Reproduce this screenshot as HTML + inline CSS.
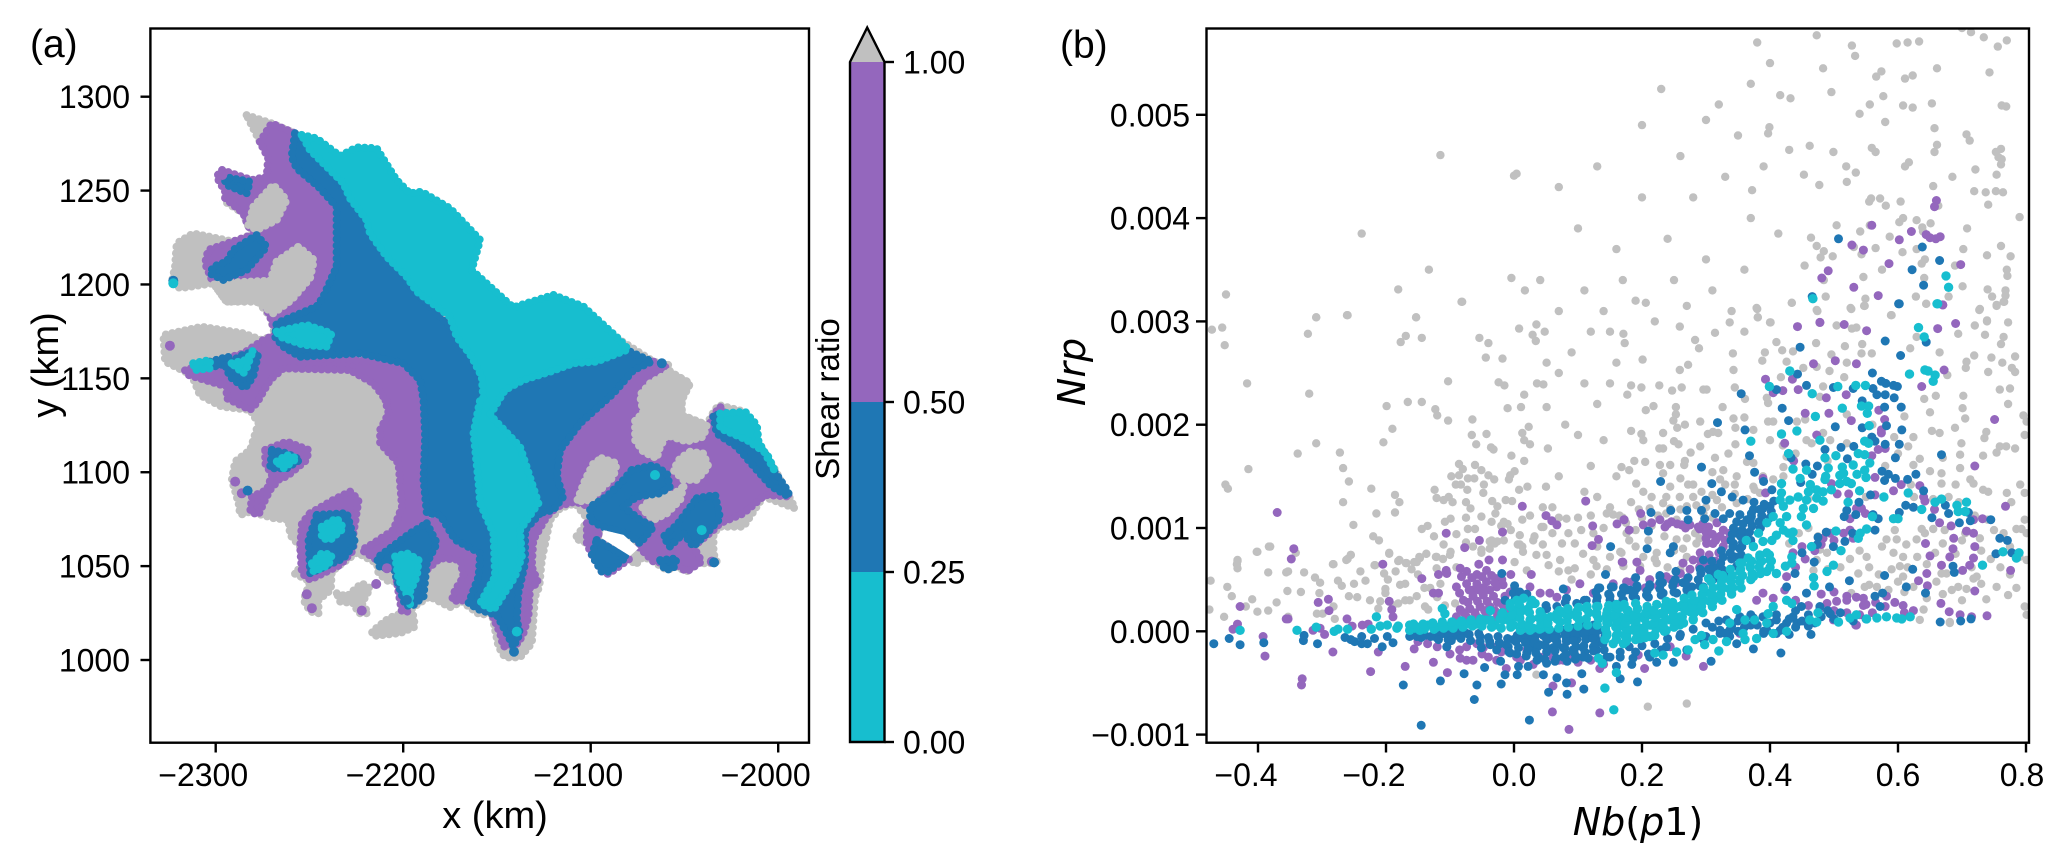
<!DOCTYPE html>
<html lang="en">
<head>
<meta charset="utf-8">
<title>Shear ratio map and scatter</title>
<style>
html,body{margin:0;padding:0;background:#fff;}
svg{display:block;}
text{font-family:"Liberation Sans",sans-serif;fill:#000;}
</style>
</head>
<body>
<svg id="fig" xmlns="http://www.w3.org/2000/svg" width="2068" height="867" viewBox="0 0 2068 867">
<rect x="0" y="0" width="2068" height="867" fill="#fff"/>
<defs><clipPath id="clipB"><rect x="1206.5" y="28.5" width="822.5" height="714.2"/></clipPath></defs>
<g id="mapLayer"></g>
<g id="scatterLayer" clip-path="url(#clipB)"></g>
<rect x="150.4" y="28.5" width="658.6" height="714.2" fill="none" stroke="#000" stroke-width="2.4"/>
<rect x="1206.5" y="28.5" width="822.5" height="714.2" fill="none" stroke="#000" stroke-width="2.4"/>
<g id="axisLayer"></g>
<g id="cbarLayer"></g>
<text x="30" y="57" font-size="39">(a)</text>
<text x="1060" y="58" font-size="39">(b)</text>
<text x="495" y="828" font-size="38" text-anchor="middle">x (km)</text>
<text x="58" y="365" font-size="38" text-anchor="middle" transform="rotate(-90 58 365)">y (km)</text>
<text x="839" y="399" font-size="33" text-anchor="middle" transform="rotate(-90 839 399)">Shear ratio</text>
<text x="1085" y="372" font-size="38" text-anchor="middle" transform="rotate(-90 1085 372)" style="font-family:'DejaVu Sans',sans-serif;font-style:italic">Nrp</text>
<text x="1638" y="835" font-size="38" text-anchor="middle" style="font-family:'DejaVu Sans',sans-serif"><tspan font-style="italic">Nb</tspan>(<tspan font-style="italic">p</tspan>1)</text>
</svg>
<script>
/* ---------- Panel (a): tick labels ---------- */
const mapXTicks=[-2300,-2200,-2100,-2000];
const mapYTicks=[1000,1050,1100,1150,1200,1250,1300];
const cbarBounds=[0,0.25,0.5,1];
const cbarLabels=['0.00','0.25','0.50','1.00'];

/* ---------- Panel (a): regions as km outlines ---------- */
const grayOutline=[[-2283.5,1290.2],[-2270.2,1285.8],[-2257.7,1280.5],[-2246.2,1277.8],[-2233.7,1268.4],[-2224.8,1273],[-2214.2,1272.5],[-2203.5,1255.6],[-2196.4,1248.5],[-2190.2,1249.4],[-2175,1240.5],[-2159,1223.7],[-2163.5,1207.7],[-2144.8,1190.8],[-2141.3,1187.8],[-2119.9,1194.4],[-2103.9,1188.2],[-2084.4,1170.4],[-2066.5,1158.9],[-2058.5,1157.1],[-2057.7,1153.5],[-2047,1147.3],[-2051.4,1138.5],[-2051.4,1130.5],[-2038.1,1125.1],[-2035.4,1130.5],[-2031.9,1135.8],[-2017.6,1132.2],[-2011.4,1125.1],[-2010.5,1116.3],[-2001.6,1101.2],[-1991,1080.8],[-2007.9,1087],[-2018.5,1071],[-2031,1071],[-2034.5,1067.4],[-2034.5,1056.8],[-2032.8,1052.4],[-2036.3,1051.5],[-2043.4,1051.5],[-2048.8,1047],[-2054.1,1049.7],[-2059.4,1047.9],[-2066.5,1052.4],[-2071.9,1055],[-2076.3,1050.6],[-2079,1054.1],[-2090.5,1045.8],[-2094.1,1047],[-2099.4,1055.9],[-2097.7,1060.4],[-2108.3,1064.8],[-2101.2,1074.5],[-2108.3,1083.4],[-2116.3,1080.8],[-2121.7,1074.5],[-2126.1,1053.2],[-2127.4,1039],[-2129.7,1033.7],[-2131.4,1008.9],[-2137.7,1001.4],[-2145.7,1001.4],[-2149.2,1007.1],[-2152.8,1024.9],[-2159,1024],[-2168.7,1031.1],[-2175,1028.1],[-2186,1033.8],[-2195.4,1027.6],[-2193.6,1017.8],[-2201.6,1014.3],[-2215.8,1012.8],[-2216.7,1015.1],[-2207.8,1022.2],[-2200.7,1024.9],[-2203.4,1041.8],[-2207.8,1041.8],[-2213.2,1046.2],[-2214.1,1051.5],[-2224.7,1057.2],[-2233.6,1050.6],[-2238.1,1047.1],[-2238.6,1037.3],[-2245.2,1032],[-2245.2,1024.9],[-2249.6,1025.8],[-2253.2,1032],[-2249.6,1041.8],[-2258.2,1046.2],[-2253.2,1050.6],[-2255,1060.4],[-2260.3,1066.6],[-2261.2,1074.6],[-2269.2,1075.5],[-2281.6,1079],[-2287,1077.3],[-2287.8,1083.5],[-2291.4,1095.9],[-2289.6,1105.7],[-2281.6,1111.9],[-2277.2,1126.1],[-2281.7,1133.2],[-2296.8,1134.9],[-2308.4,1141.1],[-2312.8,1151.8],[-2327,1158.9],[-2327.9,1173.1],[-2307.5,1177.5],[-2285.3,1174],[-2275.5,1170.4],[-2268.4,1173.1],[-2271,1182.9],[-2278.2,1191.7],[-2294.2,1190.8],[-2301.3,1200.6],[-2319,1198],[-2323.5,1200.6],[-2321.7,1209.5],[-2320.8,1221.9],[-2312,1227.2],[-2290.6,1222.8],[-2279,1227.2],[-2282.6,1230.8],[-2285.3,1237.9],[-2295,1244.1],[-2295,1250.3],[-2299.5,1257.4],[-2296.8,1261],[-2280.8,1255.6],[-2272.8,1257.4],[-2272,1268],[-2276.4,1276]];
const grayIsland=[[-2235.4,1035.5],[-2230.1,1033.8],[-2222.1,1040.9],[-2217.6,1038.2],[-2222.1,1030.2],[-2218.5,1024.9],[-2223.8,1024.9],[-2226.5,1030.2],[-2233.6,1031.1]];
const purpleNorth=[[-2276.4,1276],[-2270.2,1285.8],[-2257.7,1280.5],[-2231.9,1252.1],[-2231.9,1190],[-2269.3,1177.5],[-2271,1182.9],[-2276.4,1193.5],[-2301.3,1200.6],[-2305.7,1211.2],[-2304,1218.4],[-2278.2,1227.2],[-2282.6,1230.8],[-2285.3,1237.9],[-2295,1245.9],[-2295,1249.4],[-2299.5,1257.4],[-2296.8,1261],[-2280.8,1255.6],[-2272.8,1257.4],[-2272,1267.2]];
const purpleWest=[[-2268.4,1173.1],[-2257.7,1161.5],[-2196.4,1158],[-2187.5,1136.7],[-2187.5,1074.6],[-2185.6,1072.8],[-2196.3,1067.5],[-2214.1,1053.3],[-2222.1,1058.6],[-2215.8,1062.2],[-2205.2,1069.3],[-2200.7,1081.7],[-2202.5,1104.8],[-2212.3,1115.4],[-2212.3,1122.5],[-2207.8,1131.4],[-2209.6,1138.5],[-2207.9,1136.7],[-2215.9,1147.3],[-2228.4,1154.4],[-2263.9,1155.3],[-2271,1149.1],[-2278.2,1136.7],[-2281.7,1133.2],[-2294.2,1139.4],[-2294.2,1145.6],[-2314.6,1151.8],[-2316.4,1154.4],[-2285.3,1163.3],[-2274.6,1170.4]];
const purpleEast=[[-2066.5,1158.9],[-2058.5,1155.3],[-2069.2,1147.3],[-2075.4,1126],[-2065.7,1107.4],[-2059.4,1117.2],[-2038.1,1121.6],[-2034.5,1130.5],[-2031,1134.9],[-1993.6,1087],[-2007,1087.9],[-2018.5,1078.1],[-2031,1072.8],[-2034.5,1069.2],[-2045.2,1060.4],[-2040.8,1052.4],[-2048.8,1047],[-2054.1,1050.6],[-2066.5,1052.4],[-2075.4,1061.2],[-2066.5,1071],[-2080.8,1081.6],[-2100.3,1081.6],[-2108.3,1084.3],[-2118.1,1081.6],[-2116.3,1111.8],[-2105.7,1126],[-2087.9,1142],[-2077.2,1154.4]];
const purpleTipStrip=[[-2118.1,1081.6],[-2129.7,1074.5],[-2134.1,1065.7],[-2135.9,1053.2],[-2139.4,1028.4],[-2153.7,1026.6],[-2148.3,1014.2],[-2146.6,1007.1],[-2138.6,1008.9],[-2135.9,1014.2],[-2133.2,1023.1],[-2132.3,1039],[-2127.9,1040.8],[-2131.4,1049.7],[-2130.6,1063.9],[-2123.4,1076.3]];
const purpleSouth=[[-2180.3,1077.3],[-2172.3,1064],[-2159.8,1056.9],[-2159,1044.4],[-2164.3,1033.8],[-2169.6,1031.1],[-2174,1032],[-2172.3,1037.3],[-2167.8,1044.4],[-2169.6,1053.3],[-2180.3,1054.2],[-2187.4,1048],[-2182.9,1062.2],[-2185.6,1072.8]];
const purpleSlitEdge=[[-2102.1,1072.8],[-2095,1069.2],[-2096.8,1063.9],[-2079,1054.1],[-2090.5,1045.8],[-2094.1,1047],[-2099.4,1055.9],[-2102.1,1062.1]];
const purpleRingOne=[[-2273.6,1111.9],[-2262.1,1116.3],[-2250.5,1111.9],[-2251.4,1106.6],[-2262.1,1097.7],[-2265.6,1096.8],[-2271,1090.6],[-2274.5,1083.5],[-2277.2,1077.3],[-2281.6,1079],[-2280.7,1087],[-2272.7,1090.6],[-2270,1098.6],[-2273.6,1104.8]];
const purpleRingTwo=[[-2249.6,1078.2],[-2237.2,1085.3],[-2228.3,1089.7],[-2223.8,1085.3],[-2226.5,1067.5],[-2226.5,1058.6],[-2233.6,1050.6],[-2249.6,1042.7],[-2254,1046.2],[-2255,1060.4],[-2254,1072.8]];
const purpleColumn=[[-2203.4,1041.8],[-2200.7,1042.7],[-2197.2,1025.8],[-2200.7,1025.8]];
const grayBlobNorth=[[-2279.9,1241.4],[-2269.3,1253],[-2262.2,1245],[-2267.5,1234.3],[-2278.2,1229],[-2282.6,1231.7]];
const grayBlobMid=[[-2267.5,1212.1],[-2255.9,1220.1],[-2247.6,1213],[-2249.7,1203.3],[-2259.5,1191.7],[-2269.3,1184.6],[-2278.2,1190.8],[-2294.2,1190.8],[-2301.3,1200.6],[-2271,1202]];
const grayBlobEastOne=[[-2057.7,1153.5],[-2047,1147.3],[-2051.4,1138.5],[-2051.4,1130.5],[-2038.1,1125.1],[-2039.9,1118.9],[-2048.8,1116.3],[-2059.4,1119.8],[-2063,1113.6],[-2064.8,1107.4],[-2071.9,1110.9],[-2076.3,1117.1],[-2076.3,1127.8],[-2071.9,1131.4],[-2073.7,1141.1],[-2068.3,1147.3]];
const grayBlobEastTwo=[[-2094.1,1107.4],[-2086.1,1104.7],[-2087.9,1097.6],[-2095,1090.5],[-2100.3,1085.2],[-2107.4,1084.3],[-2103,1095.9],[-2098.5,1104.7]];
const grayBlobEastThree=[[-2047,1110.9],[-2039.9,1110],[-2037.2,1102.9],[-2043.4,1095.9],[-2050.5,1095.9],[-2055.9,1101.2],[-2052.3,1107.4]];
const grayBlobEastFour=[[-2050.5,1092.3],[-2052.3,1085.2],[-2059.4,1078.1],[-2066.5,1074.6],[-2072.8,1080.8],[-2068.3,1085.2],[-2059.4,1087],[-2054.1,1089.6]];
const blueMain=[[-2257.7,1280.5],[-2246.2,1269.8],[-2223,1239.6],[-2196.4,1198.8],[-2171.5,1174],[-2155.5,1145.6],[-2155.5,1127.8],[-2146.6,1101.2],[-2143,1074.6],[-2127,1078.1],[-2135,1069.2],[-2135,1051.5],[-2138.6,1035.5],[-2139.4,1021.3],[-2137.7,1014.2],[-2141.2,1007.1],[-2144.8,1014.2],[-2150.1,1023.9],[-2159,1026.6],[-2165.2,1030.2],[-2159.8,1044.4],[-2159,1056.9],[-2172.3,1064],[-2180.3,1077.3],[-2187.4,1078.2],[-2189.2,1095.9],[-2188.3,1119],[-2189.2,1138.5],[-2191,1149.1],[-2200,1158],[-2223,1163.3],[-2255,1161.5],[-2264,1166.9],[-2268.4,1172.2],[-2267.5,1179.3],[-2246.2,1188.2],[-2242.6,1193.5],[-2235.5,1209.5],[-2235.5,1225.4],[-2235.5,1241.4],[-2245.3,1252.1],[-2256.8,1261.8],[-2259.5,1268]];
const blueEast=[[-2153.7,1130.5],[-2145.7,1143.8],[-2135.9,1149.1],[-2121.7,1153.5],[-2109.2,1158],[-2096.8,1158.9],[-2080.8,1165.1],[-2067.4,1158.9],[-2077.2,1154.4],[-2087.9,1142],[-2105.7,1126],[-2116.3,1111.8],[-2118.1,1097.6],[-2114.6,1087],[-2119.9,1079.9],[-2127.9,1078.1],[-2130.6,1092.3],[-2136.8,1110],[-2152.8,1127.8]];
const blueSouthWest=[[-2187.4,1072.8],[-2182,1062.2],[-2184.7,1056.9],[-2187.4,1051.5],[-2189.2,1033.8],[-2195.4,1028.5],[-2199,1029.3],[-2203.4,1042.7],[-2205.2,1049.8],[-2212.3,1048.9],[-2214.1,1054.2],[-2196.3,1067.5]];
const blueEastBlob=[[-2078.1,1101.2],[-2066.5,1103.8],[-2059.4,1099.4],[-2057.7,1092.3],[-2063,1088.7],[-2075.4,1087],[-2082.5,1081.6],[-2073.7,1074.6],[-2066.5,1071],[-2073.7,1062.1],[-2080.8,1067.4],[-2094.1,1071],[-2100.3,1074.6],[-2100.3,1081.6],[-2091.4,1087],[-2082.5,1095.9]];
const blueEastPatch=[[-2043.4,1086.1],[-2033.6,1087.9],[-2031,1075.4],[-2038.1,1067.4],[-2045.2,1060.4],[-2050.5,1067.4],[-2057.7,1060.4],[-2061.2,1065.7],[-2054.1,1071.9]];
const blueSlitPatch=[[-2096.8,1063.9],[-2080.8,1055],[-2090.5,1047],[-2094.1,1047],[-2099.4,1055.9]];
const blueSouthEdge=[[-2063,1053.2],[-2054.1,1054.1],[-2055.9,1048.8],[-2060.3,1047.9]];
const blueNorthWest=[[-2295.9,1257.4],[-2281.7,1254.7],[-2283.5,1248.5],[-2294.2,1253]];
const blueFinger=[[-2278.2,1226.3],[-2272.8,1220.1],[-2283.5,1207.7],[-2296,1202.4],[-2303.1,1205.9],[-2301.3,1209.5],[-2294.2,1212.1],[-2290.6,1218.4]];
const blueCoastStrip=[[-2034.5,1129.6],[-2032.8,1120.7],[-2022.1,1113.6],[-2011.4,1101.2],[-2003.4,1092.3],[-1994.5,1087],[-1994.5,1089.6],[-2002.5,1101.2],[-2007.9,1111.8],[-2016.8,1117.2],[-2031,1131.3]];
const blueRingOne=[[-2270,1111.9],[-2262.1,1110.1],[-2255,1106.6],[-2262.1,1102.1],[-2271,1102.1]];
const blueRingTwo=[[-2246.1,1077.3],[-2230.1,1078.2],[-2225.6,1062.2],[-2231.8,1054.2],[-2249.6,1046.2],[-2250.5,1064]];
const blueWestStrip=[[-2303.1,1158.9],[-2293.3,1161.6],[-2293.3,1158],[-2301.3,1156.2]];
const blueWestV=[[-2295,1157.1],[-2284.4,1163.3],[-2277.3,1163.3],[-2280,1150.9],[-2284.4,1144.7],[-2292.4,1150.9]];
const cyanMain=[[-2254.2,1279.6],[-2246.2,1277.8],[-2233.7,1268.4],[-2224.8,1273],[-2214.2,1272.5],[-2203.5,1255.6],[-2196.4,1248.5],[-2190.2,1249.4],[-2175,1240.5],[-2159,1223.7],[-2163.5,1207.7],[-2144.8,1190.8],[-2141.3,1187.8],[-2119.9,1194.4],[-2103.9,1188.2],[-2084.4,1170.4],[-2079.9,1165.4],[-2096.8,1158.9],[-2109.2,1158],[-2121.7,1153.5],[-2135.9,1149.1],[-2145.7,1143.8],[-2153.7,1130.5],[-2137.7,1113.6],[-2134.2,1103],[-2127.9,1083.5],[-2137.6,1069.3],[-2136.7,1055.1],[-2140.3,1044.4],[-2151.8,1026.7],[-2159,1030.2],[-2151,1044.4],[-2151.9,1067.5],[-2159,1083.5],[-2159.8,1094.1],[-2162.5,1120.8],[-2159,1138.5],[-2157.3,1138.5],[-2158.1,1150.9],[-2163.5,1161.6],[-2171.5,1172.2],[-2175,1182.9],[-2192.8,1196.2],[-2198.2,1204.2],[-2208.8,1214.8],[-2217.7,1227.2],[-2219.5,1234.3],[-2228.4,1245.9],[-2231.9,1253.9],[-2242.6,1264.5],[-2249.7,1271.6]];
const cyanFinger=[[-2267.5,1174.9],[-2251.5,1178.4],[-2238.2,1174],[-2240.8,1166.9],[-2253.3,1167.8],[-2265.7,1172.2]];
const cyanCoast=[[-2031,1131.3],[-2017.6,1132.2],[-2011.4,1125.1],[-2010.5,1116.3],[-2001.6,1100.3],[-2006.1,1110],[-2016.8,1117.2],[-2031,1123.4]];
const cyanWestStrip=[[-2312,1158],[-2303.1,1159.8],[-2303.1,1155.3],[-2311.1,1154.4]];
const cyanWestV=[[-2291.5,1158],[-2283.5,1159.8],[-2280,1165.1],[-2283.5,1155.3],[-2285.3,1152.7]];
const cyanRingOne=[[-2267.4,1105.7],[-2262.1,1109.2],[-2256.7,1107.4],[-2263.8,1102.1]];
const cyanRingTwo=[[-2243.4,1071],[-2235.4,1075.5],[-2231.8,1070.2],[-2238.9,1064],[-2243.4,1064.8]];
const cyanRingTwoLower=[[-2248.7,1051.5],[-2243.4,1056.9],[-2238.1,1056],[-2239.8,1050.6],[-2247.8,1047.1]];
const cyanSouthWest=[[-2204.3,1055.1],[-2198.1,1056.9],[-2191.8,1053.3],[-2192.7,1044.4],[-2196.3,1036.4],[-2196.3,1029.3],[-2199,1037.3],[-2202.5,1042.7]];
const whiteSlit=[[-2093.2,1069.2],[-2082.5,1066.6],[-2074.5,1059.5],[-2079,1055.4],[-2094.1,1064.8]];
const purpleMapDots=[[-2296.5,1258.3],[-2324.4,1167.4],[-2289.6,1095],[-2286.1,1088.8],[-2251.4,1035],[-2248.7,1027.6],[-2222.1,1026.3],[-2214.4,1040.5],[-2208.7,1048.9],[-2035.4,1052.4]];
const blueMapDots=[[-2283,1090.2],[-2322.6,1202],[-2034.2,1052],[-2140.9,1004.4],[-2062.1,1158],[-2198,1032]];
const cyanMapDots=[[-2322.6,1200.6],[-2139.4,1015.1],[-2065.7,1098.5],[-2040.8,1069.2]];

/* ---------- Panel (b): tick labels and values (Nb, Nrp in 1e-3) ---------- */
const scatterXTicks=[-0.4,-0.2,0.0,0.2,0.4,0.6,0.8];
const scatterYTicks=[-1,0,1,2,3,4,5];
const grayPoints=[[.473,5.77],[.528,5.67],[.533,5.57],[.598,5.69],[.615,5.70],[.633,5.71],[.70,5.84],[.714,5.80],[.734,5.75],[.756,5.66],[.770,5.72],[.483,5.45],[.566,5.37],[.574,5.42],[.611,5.35],[.623,5.38],[.661,5.45],[.743,5.41],[.416,5.19],[.432,5.16],[.496,5.22],[.577,5.18],[.556,5.10],[.540,5.01],[.608,5.09],[.623,5.07],[.653,5.11],[.762,5.09],[.769,5.08],[.580,4.93],[.657,4.87],[.399,4.88],[.397,4.82],[.430,4.66],[.462,4.70],[.499,4.64],[.559,4.68],[.565,4.64],[.661,4.71],[.657,4.64],[.707,4.81],[.712,4.75],[.753,4.64],[.761,4.67],[.757,4.59],[.762,4.57],[.761,4.52],[.519,4.50],[.534,4.44],[.611,4.50],[.617,4.54],[.721,4.47],[.754,4.42],[.453,4.42],[.685,4.40],[.477,4.32],[.520,4.35],[.372,4.27],[.655,4.31],[.719,4.26],[.737,4.25],[.753,4.26],[.764,4.25],[.555,4.16],[.558,4.19],[.572,4.19],[.581,4.12],[.604,4.16],[.663,4.12],[.741,4.13],[.790,4.01],[.504,3.93],[.556,3.93],[.602,3.96],[.608,4.00],[.629,3.98],[.651,3.95],[.638,3.91],[.639,3.87],[.708,3.90],[.413,3.85],[.464,3.81],[.541,3.87],[.587,3.82],[.473,3.73],[.484,3.68],[.479,3.62],[.498,3.63],[.531,3.72],[.543,3.65],[.565,3.71],[.607,3.67],[.629,3.70],[.702,3.70],[.761,3.73],[.739,3.64],[.776,3.63],[.642,3.60],[.637,3.56],[.689,3.54],[.454,3.54],[.575,3.50],[.546,3.43],[.641,3.42],[.770,3.50],[.771,3.44],[.701,3.34],[.740,3.31],[.768,3.30],[.484,3.40],[.747,3.24],[.768,3.25],[.487,3.24],[.549,3.22],[.628,3.24],[.679,3.24],[.434,3.18],[.644,3.17],[.766,3.19],[.548,3.15],[.527,3.12],[.754,3.15],[.474,3.10],[.727,3.11],[.380,3.12],[.589,3.06],[.381,3.04],[.739,3.01],[.401,2.99],
[.206,3.18],[.434,3.18],[.379,3.13],[.381,3.04],[.473,3.11],[.526,3.13],[.547,3.15],[.644,3.17],[.728,3.12],[.754,3.16],[.765,3.19],[.337,2.99],[.259,2.95],[.400,2.99],[.504,2.96],[.528,2.93],[.535,2.94],[.720,2.96],[.739,3.00],[.772,2.99],[.590,3.06],[.171,2.88],[.173,2.79],[.314,2.89],[.283,2.82],[.289,2.74],[.410,2.80],[.419,2.72],[.436,2.71],[.472,2.79],[.517,2.76],[.544,2.78],[.543,2.69],[.559,2.69],[.694,2.88],[.736,2.87],[.765,2.85],[.761,2.78],[.619,2.74],[.665,2.70],[.629,2.85],[.201,2.63],[.272,2.58],[.259,2.53],[.342,2.69],[.343,2.53],[.392,2.70],[.388,2.62],[.426,2.61],[.452,2.55],[.473,2.56],[.493,2.52],[.496,2.68],[.520,2.60],[.707,2.61],[.706,2.55],[.719,2.67],[.746,2.65],[.763,2.60],[.741,2.51],[.778,2.55],[.783,2.66],[.677,2.48],[.783,2.51],[.183,2.38],[.199,2.36],[.227,2.38],[.247,2.33],[.262,2.36],[.296,2.34],[.301,2.34],[.345,2.36],[.361,2.25],[.417,2.46],[.516,2.46],[.483,2.37],[.478,2.27],[.395,2.26],[.397,2.21],[.759,2.34],[.775,2.35],[.641,2.25],[.659,2.28],[.702,2.28],[.772,2.20],[.177,2.29],[.206,2.14],[.218,2.18],[.253,2.17],[.253,2.10],[.249,2.04],[.267,2.00],[.255,1.97],[.326,2.17],[.291,2.03],[.343,2.06],[.360,2.07],[.346,1.97],[.374,1.95],[.405,2.03],[.455,2.05],[.442,2.03],[.701,2.16],[.705,2.06],[.796,2.09],[.801,2.03],[.183,1.94],[.199,1.91],[.233,1.92],[.202,1.85],[.250,1.84],[.257,1.81],[.227,1.77],[.233,1.77],[.291,1.79],[.276,1.73],[.303,1.91],[.311,1.93],[.319,1.92],[.346,1.81],[.335,1.72],[.314,1.68],[.400,1.85],[.397,2.03],[.689,1.97],[.653,1.94],[.665,1.92],[.624,1.88],[.594,1.88],[.738,1.93],[.735,1.87],[.798,1.90],[.699,1.82],[.759,1.79],[.769,1.79],[.783,1.77],[.754,1.73],[.733,1.70],[.697,1.71],[.616,1.79],[.168,1.59],[.188,1.65],[.205,1.64],[.228,1.61],[.244,1.61],[.267,1.65],[.266,1.61],[.180,1.56],[.233,1.53],[.272,1.42],[.310,1.54],[.327,1.56],[.348,1.50],[.364,1.64],[.374,1.63],[.191,1.43],[.202,1.35],[.244,1.40],[.238,1.30],[.293,1.35],[.183,1.25],[.233,1.24],[.259,1.30],[.322,1.47],[.345,1.42],[.376,1.37],[.624,1.61],[.634,1.67],[.697,1.58],[.668,1.53],[.713,1.47],[.718,1.43],[.668,1.43],[.791,1.42],[.733,1.37],[.741,1.35],[.770,1.34],[.798,1.34],[.777,1.25],[.679,1.30],[.317,1.27],[.270,1.21],[.244,1.19],
[.582,.89],[.598,.89],[.613,.84],[.629,.89],[.593,.76],[.608,.72],[.551,.72],[.538,.56],[.603,.63],[.608,.53],[.624,.43],[.548,.43],[.567,.43],[.527,.37],[.640,.21],[.634,.11],[.681,.09],[.738,.31],[.718,.51],[.723,.53],[.754,.43],[.772,.35],[.694,.43],[.684,.40],[.707,.41],[.798,.24],[.801,.16],[.668,.56],[.676,.56],[.686,.63],[.658,.76],[.637,.99],[.642,.95],[.655,.99],[.705,.95],[.785,.99],[.793,.99],[.798,1.08],[.801,.95],[.801,.69],[.728,.90],[.673,.98],[.176,.95],[.168,.76],[.202,.72],[.223,.76],[.244,.76],[.264,.80],[.270,.90],[.254,.89],[.285,.85],[.283,.95],[.223,.66],[.197,.63],[.296,1.14],[.254,1.08],[.238,1.14],[.212,1.19],[.348,1.24],[.280,1.30],[.384,1.34],[.405,1.47],[.421,1.50],[.426,1.69],[.457,1.85],[.465,1.82],[.494,1.85],[.483,1.92],[.421,1.59],[.389,1.50],[.374,1.40],[.489,.76],[.478,.79],[.473,.69],[.468,.59],
[-.472,2.92],[-.456,2.94],[-.452,2.77],[-.417,2.40],[-.415,1.57],[-.451,1.42],[-.447,1.38],[-.320,2.30],[-.322,2.88],[-.309,3.04],[-.261,3.06],[-.338,1.72],[-.309,1.82],[-.272,1.73],[-.267,1.58],[-.258,1.45],[-.267,1.25],[-.223,1.38],[-.215,1.14],[-.186,1.15],[-.186,1.32],[-.179,1.25],[-.251,1.03],[-.220,.92],[-.211,.88],[-.204,1.83],[-.190,1.96],[-.199,2.18],[-.166,2.22],[-.144,2.22],[-.123,2.15],[-.120,2.09],[-.103,2.04],[-.103,2.42],[-.177,2.80],[-.169,2.86],[-.144,2.84],[-.153,3.04],[-.082,3.19],[-.054,2.84],[-.040,2.79],[-.044,2.65],[-.018,2.64],[-.024,2.41],[-.015,2.38],[.008,2.93],[.029,2.87],[.035,2.97],[.034,2.81],[.048,2.90],[.051,2.60],[.036,2.40],[.046,2.39],[.016,2.29],[-.010,2.16],[.011,2.17],[.051,2.17],[-.065,2.05],[-.066,1.90],[-.043,1.91],[-.059,1.81],[-.036,1.78],[-.032,1.76],[.023,1.98],[.013,1.92],[.016,1.85],[.025,1.81],[.053,1.77],[-.004,1.70],[.016,1.65],[-.086,1.62],[-.080,1.57],[-.086,1.51],[-.098,1.50],[-.072,1.48],[-.061,1.61],[-.051,1.56],[-.040,1.51],[-.031,1.47],[-.062,1.48],[-.006,1.51],[.001,1.55],[-.008,1.47],[-.091,1.42],[-.073,1.37],[-.083,1.42],[-.047,1.42],[-.048,1.34],[.008,1.37],[.021,1.40],[.050,1.40],[-.124,1.37],[-.121,1.29],[-.110,1.27],[-.102,1.30],[-.096,1.25],[-.075,1.25],[-.068,1.19],[-.034,1.26],[-.026,1.21],[-.013,1.27],[-.003,1.26],[-.029,1.14],[-.051,1.11],[-.035,1.06],[-.016,1.06],[-.010,1.04],[-.075,1.10],[-.099,1.09],[-.108,1.06],[-.144,.99],[-.135,1.02],[-.072,.99],[-.061,.99],[.013,1.08],[.009,.93],[.043,1.01],[.032,.92],[-.035,.88],[-.026,.87],[.006,.84],[-.038,.80],[-.016,.88],[.013,.82],[-.051,.76],[-.099,.77],[-.121,.72],[-.137,.75],[-.147,.71],[-.156,.67],[-.195,.76],[-.179,.69],[-.169,.66],[-.255,.74],[-.262,.69],[-.283,.65],[-.217,.64],[-.402,.77],[-.383,.82],[-.432,.69],[-.433,.65],[-.341,.76],
[-.474,.49],[-.448,.43],[-.441,.34],[-.476,.21],[-.453,.14],[-.409,.31],[-.419,.24],[-.401,.19],[-.384,.57],[-.384,.20],[-.371,.28],[-.432,.68],[-.432,.61],[-.401,.77],[-.381,.82],[-.356,.57],[-.353,.58],[-.328,.57],[-.354,.39],[-.333,.38],[-.353,.14],[-.311,.52],[-.303,.47],[-.304,.37],[-.308,.17],[-.299,.17],[-.282,.65],[-.275,.49],[-.269,.44],[-.258,.34],[-.245,.33],[-.282,.24],[-.280,.12],[-.260,.70],[-.255,.74],[-.232,.49],[-.218,.64],[-.203,.56],[-.197,.50],[-.178,.45],[-.201,.41],[-.201,.37],[-.209,.29],[-.212,.22],[-.189,.25],[-.181,.27],[-.163,.30],[-.152,.34],[-.195,.75],[-.181,.68],[-.168,.66],[-.148,.72],[-.137,.75],[-.122,.72],[-.111,.70],[-.152,.67],[-.121,.61],[-.100,.74],[-.150,.55],[-.131,.42],[-.139,.24],[-.134,.21],[-.108,.25],[-.092,.27],[-.064,.82],[-.051,.79],[-.038,.87],[-.030,.85],[.009,.84],[.014,.77],[.030,.88],[.046,1.01],[.035,.74],[.051,.74],[.054,.64],[.001,.67],[.020,.59],[.072,.69],[.085,.59],[.095,.61],[.095,.85],[.108,.75],[.124,.69],[.129,.63],[.124,.95],[.145,1.14],[.155,1.13],[.082,1.09],[.085,.95],[.166,.77],[.171,.63],[.035,-.42],[.209,-.73],[.270,-.70],[.681,.08],
[-.115,4.61],[.000,4.41],[.004,4.43],[-.238,3.85],[-.133,3.50],[-.181,3.31],[-.081,3.19],[-.004,3.42],[.017,3.30],[.041,3.40],[-.450,3.26],[-.309,3.04],[-.260,3.06],[-.153,3.04],
[.07,4.3],[.10,3.9],[.13,4.5],[.16,3.7],[.2,4.9],[.2,4.2],[.23,5.25],[.24,3.8],[.26,4.6],[.28,4.2],[.3,4.95],[.3,3.6],[.32,5.1],[.33,4.4],[.35,4.8],[.36,3.5],[.37,5.3],[.37,4.0],[.38,5.7],[.39,4.5],[.4,5.5],[.11,3.3],[.14,3.1],[.17,3.4],[.19,3.2],[.22,3.0],[.25,3.4],[.27,3.15],[.31,3.3],[.34,3.1],[.36,2.9],[.07,3.1],[.09,2.7],[.12,2.9],[.15,2.4],[.13,2.2],[.07,2.5],[.08,2.0],[.1,1.9],[.12,1.6],[.14,1.85],[.11,1.35],[.1,1.1],[.13,1.3],[.16,1.5],[.15,1.2],[.06,1.2],[.07,1.5],[.17,1.1],[.15,2.9],[.16,2.6],[.11,2.4]];
const grayDensePoints=[[.19,.82],[.21,.88],[.235,.92],[.25,.78],[.27,.72],[.29,.9],[.31,1.1],[.19,.98],[.215,1.02],[.22,.7],[.24,.62],[.26,.6],[.18,.88],[.175,1.05],[.2,1.1],[.225,1.12],[.26,1.18],[.285,1.22],[.3,1.2],[.325,1.2],[.345,1.33],[.365,1.28],[.31,1.32],[.33,1.42],[.28,1.42],[.26,1.48],[.215,1.3],[.195,1.18],[.165,1.12],[.14,1.0],[.13,.82],[.15,.72],[.12,1.12],[.105,.98],[.075,.85],[.06,.95],[.045,.84],[.07,1.1],[.045,1.2],[.025,1.12],[-.005,.98],[-.02,1.02],[.12,.55],[.145,.6],[.09,.5],[.07,.58],[-.09,.62],[-.115,.46],[-.11,.84],[-.125,.92],[-.09,.94],[-.075,.86],[-.16,.6],[-.17,.46],[-.185,.58],[-.14,.42],[-.12,.33],[-.17,.3],[-.225,.3],[-.24,.58],[-.25,.46],
[.43,.85],[.445,.95],[.46,1.0],[.475,.92],[.49,.6],[.51,.62],[.525,.7],[.54,.78],[.555,.62],[.57,.55],[.59,.6],[.6,.48],[.615,.62],[.63,.72],[.645,.65],[.66,.48],[.67,.85],[.69,.75],[.7,.88],[.715,.62],[.73,.78],[.745,.7],[.76,.62],[.775,.82],[.79,.72],[.765,.95],[.75,.98],[.74,1.08],[.72,1.12],[.695,1.25],[.655,1.28],[.625,1.3],[.595,.98],[.575,.82],[.555,.45],[.585,.4],[.61,.38],[.645,.32],[.67,.36],[.7,.3],[.73,.46],[.775,.55],[.785,.42],
[.42,1.8],[.44,1.72],[.46,1.28],[.49,1.65],[.52,1.82],[.55,1.3],[.58,1.6],[.6,1.72],[.62,1.42],[.65,1.55],[.67,1.68],[.69,1.42],[.52,2.1],[.56,2.0],[.61,2.08],[.65,2.12]];
const purplePoints=[[.660,4.17],[.657,4.11],[.559,3.93],[.621,3.87],[.602,3.79],[.644,3.84],[.650,3.81],[.659,3.80],[.666,3.82],[.528,3.74],[.546,3.69],[.586,3.56],[.698,3.55],[.491,3.49],[.481,3.42],[.531,3.33],[.569,3.25],[.670,3.16],[.478,2.99],
[-.370,1.15],[-.344,.80],[-.348,.70],[-.428,.24],[-.432,.07],[-.439,.02],[-.392,-.05],[-.389,-.24],[-.356,.12],[-.353,.12],[-.306,.28],[-.290,.31],[-.289,.20],[-.314,.01],[-.303,.03],[-.296,-.03],[-.331,-.46],[-.332,-.52],[-.283,-.20],[-.261,.12],[-.253,.05],[-.237,.06],[-.228,.07],[-.224,-.39],[-.205,.65],[-.195,.29],[-.191,.21],[-.189,.14],[-.212,-.20],[-.156,-.17],[-.170,-.34],[-.126,-.30],[-.104,-.40],[-.144,.51],[-.126,.37],[-.118,.37],[-.106,.95],[-.106,.59],[-.105,.56],[-.118,.55],[-.077,.81],[-.054,.88],[-.039,.69],[-.018,.96],[-.018,.69],[-.055,.65],[.013,1.21],[-.005,.55],[.027,.55],[.050,1.12],[.059,1.07],[.067,1.03],[.123,1.02],[.112,1.26],[.132,.89],[.122,.83],[.169,.67],[.161,1.04],[.172,1.08],[-.012,-.36],[.061,-.53],[.090,-.50],[.060,-.78],[.086,-.95],[.134,-.79],[.134,-.36],
[-.084,.61],[-.074,.58],[-.058,.55],[-.043,.59],[-.027,.51],[-.017,.45],[-.006,.38],[.004,.32],[-.090,.43],[-.074,.46],[-.058,.46],[-.043,.48],[-.027,.43],[-.014,.34],[-.079,.30],[-.064,.34],[-.048,.35],[-.032,.34],[-.017,.25],[-.084,.21],[-.069,.22],[-.053,.24],[-.038,.24],[-.022,.17],[-.090,.14],[-.074,.14],[-.058,.14],[-.043,.16],[-.027,.13],[-.048,.42],[-.064,.40],[-.038,.40],
[-.105,-.15],[-.084,-.26],[-.074,-.28],[-.064,-.28],[-.074,-.15],[-.058,-.12],[-.048,-.16],[-.040,-.25],[-.027,-.28],[-.027,-.15],[-.012,-.15],[.004,-.25],[.020,-.18],[.041,-.25],[.061,-.25],[.077,-.28],[.092,-.25],[.067,-.12],[.025,.43],[.041,.37],[.056,.37],[.082,.40],[.103,.46],[.124,.37],[.155,.46],[.176,.48],[.030,.27],[.067,.33],
[.198,1.14],[.172,1.08],[.180,.98],[.202,1.03],[.215,1.05],[.228,1.08],[.236,1.01],[.246,1.06],[.262,1.03],[.275,1.03],[.288,1.01],[.304,1.01],[.317,1.05],[.327,.98],[.337,.95],[.322,.92],[.311,.85],[.327,.82],[.301,.85],[.291,.76],[.280,.69],[.264,.66],[.238,.53],[.212,.50],[.197,.59],[.192,.67],[.170,.67],[.291,.69],[.301,.63],[.270,.50],[.254,.47],
[.443,2.95],[.478,2.99],[.516,2.97],[.551,2.91],[.662,2.93],[.690,2.98],[.670,3.16],[.468,2.59],[.502,2.62],[.535,2.59],[.393,2.44],[.435,2.44],[.405,2.31],[.420,2.33],[.444,2.34],[.488,2.26],[.519,2.29],[.492,2.11],[.455,2.11],[.527,2.04],[.570,2.14],[.579,2.05],[.574,1.95],[.574,1.92],[.473,1.90],[.423,1.82],[.569,1.76],[.580,1.77],[.559,1.70],[.672,2.53],[.637,2.37],[.751,2.05],[.720,1.60],[.564,1.49],[.593,1.36],[.605,1.42],[.634,1.41],[.640,1.30],[.642,1.26],[.523,1.33],[.505,1.33],[.564,1.32],[.768,1.21],[.657,1.18],[.535,1.19],[.543,1.19],[.549,1.14],[.389,1.48],[.393,1.34],[.496,1.43],[.437,1.65],[.525,1.09],[.665,1.05],[.683,1.02],[.707,.97],[.718,1.08],[.732,1.09],[.718,.95],[.687,.90],[.643,.85],[.686,.80],[.720,.82],[.650,.73],[.681,.72],[.718,.71],[.668,.64],[.712,.64],[.701,.59],[.776,.59],[.645,.56],[.632,.49],[.646,.44],[.720,.39],[.582,.34],[.608,.25],[.667,.27],[.624,.20],[.680,.19],[.697,.16],[.715,.14],[.739,.15],[.546,.32],[.546,.25],[.535,.06],[.525,.98],[.494,.95],[.483,.90],[.450,.82],[.436,.76],[.426,.53],[.423,.40],[.389,.37],[.379,.30],[.405,.32],[.520,.34],[.504,.29],[.489,.27],[.478,.22],[.499,.11],[.204,-.36],[.296,-.34],[.194,-.23],[.269,-.24],[.244,-.15],[.534,.06],[.353,-.02]];
const purpleClusterPoints=[[-.082,.53],[-.066,.52],[-.05,.53],[-.035,.54],[-.019,.5],[-.085,.37],[-.07,.4],[-.055,.4],[-.03,.47],[-.072,.28],[-.057,.29],[-.042,.29],[-.026,.28],[-.01,.27],[-.078,.18],[-.061,.18],[-.046,.2],[-.03,.2],[-.012,.2],[-.084,.1],[-.066,.09],[-.05,.1],[-.034,.09],
[.29,.99],[.3,.96],[.31,.94],[.3,.9],[.315,.88],[.33,.88],[.32,.76],[.305,.74],[.315,.68],[.29,.62],[.275,.6],[.26,.56],[.245,.5],[.225,.44],[.205,.42],[.185,.48],[.24,1.04],[.255,1.04],[.268,1.0],[.295,1.04],
[.44,.62],[.455,.7],[.47,.78],[.48,.84],[.5,.88],[.515,.95],[.53,.9],[.48,.36],[.5,.38],[.52,.3],[.535,.33],[.55,.26],[.565,.28],[.58,.24],[.595,.28],[.61,.18],[.56,.18],[.54,.16],[.52,.18],[.5,.2],[.46,.25],[.44,.3],
[.07,-.28],[.1,-.3],[.12,-.28],[.14,-.32],[.01,-.28],[.03,-.32],[-.02,-.2],[-.1,-.22],[-.12,-.15],[-.135,-.12],[-.15,-.1],[-.085,-.18],[-.05,-.22]];
const bluePoints=[[.507,3.80],[.638,3.72],[.665,3.59],[.622,3.50],[.640,3.35],[.601,3.17],[.466,3.24],
[-.469,-.12],[-.445,-.07],[-.428,-.13],[-.391,-.11],[-.328,-.04],[-.329,-.09],[-.307,-.12],[-.264,-.06],[-.255,-.08],[-.249,-.10],[-.238,-.05],[-.238,-.12],[-.229,-.12],[-.218,-.07],[-.206,-.15],[-.198,-.05],[-.189,-.11],[-.173,-.52],[-.115,-.48],[-.058,-.52],[-.145,-.91],[-.062,-.66],[-.078,-.41],[-.046,-.35],[-.020,-.51],[-.014,-.42],[.005,-.42],[.024,-.86],[.054,-.59],[.083,-.61],[.109,-.56],[.082,-.50],[.007,-.34],[.022,-.34],[-.021,-.29],[.046,-.42],[.067,-.45],[.106,-.41],[.151,.82],[.143,.55],[.077,.41],[.001,.44],[-.019,.56],
[-.163,-.05],[-.152,-.05],[-.139,-.04],[-.121,-.06],[-.110,-.02],[-.103,-.08],[-.092,-.04],[-.105,-.15],[-.074,-.02],[-.053,-.05],[-.038,-.10],[-.022,-.12],[-.009,-.15],[-.006,-.21],[.020,-.21],[.030,-.15],[.038,-.25],[.051,-.31],[.064,-.29],[.077,-.25],[.098,-.25],[.116,-.26],[.129,-.18],[.150,-.25],[.166,-.25],[.160,-.34],[.145,-.25],[-.001,-.08],[.014,-.07],[.030,-.05],[.046,-.04],[.061,-.02],[.077,.01],[.092,.03],[.108,.05],[.124,.06],[.051,-.08],[.067,-.10],[.082,-.08],[.098,-.08],[.113,-.07],[.127,-.05],[.061,-.16],[.077,-.16],[.092,-.18],[.108,-.16],[.124,-.15],[.134,-.10],[.067,-.05],[.087,-.02],[.103,-.02],[.119,0],[.132,.01],[.040,-.13],[.025,-.12],[-.014,.30],[-.001,.37],[.009,.38],[.067,.24],[.082,.32],[.098,.27],[.113,.30],[.134,.42],[.155,.43],[.171,.42],[.181,.40],[.051,.22],[.129,.29],[.150,.34],
[.176,.40],[.192,.42],[.212,.43],[.228,.47],[.249,.47],[.264,.47],[.278,.43],[.171,.30],[.186,.34],[.207,.35],[.233,.37],[.254,.37],[.272,.37],[.296,.43],[.311,.50],[.322,.63],[.228,.54],[.190,.52],[.253,.58],[.296,.69],[.304,.60],[.291,.60],[.348,.95],[.343,.85],[.358,.92],[.345,.72],[.356,.82],[.348,.63],[.337,.56],[.337,1.14],[.353,1.13],[.371,1.11],[.374,1.18],[.389,1.19],[.400,1.21],[.364,1.08],[.348,1.06],[.327,1.09],[.314,1.14],[.293,1.17],[.270,1.17],[.245,1.17],[.214,1.15],[.272,1.08],[.298,1.09],[.210,.97],[.208,.80],[.249,.82],[.244,.76],[.228,.53],
[.318,2.02],[.361,1.95],[.293,1.59],[.229,1.45],[.309,1.43],[.324,1.35],[.300,1.27],[.341,1.30],[.358,1.27],[.375,1.25],[.368,1.70],[.376,1.54],[.390,1.45],[.403,1.37],[.391,1.23],[.406,1.26],[.355,2.30],[.410,2.34],[.419,2.16],[.429,2.04],[.447,2.75],[.443,2.49],[.457,2.38],[.499,2.36],[.530,2.35],[.502,1.98],[.544,2.23],[.544,1.97],[.486,1.76],[.511,1.78],[.531,1.79],[.521,1.67],[.456,1.62],[.474,1.60],[.433,1.68],[.448,1.44],[.466,1.52],
[.580,2.81],[.602,3.17],[.604,2.67],[.644,2.80],[.560,2.50],[.574,2.42],[.581,2.40],[.593,2.38],[.599,2.37],[.561,2.35],[.567,2.29],[.580,2.29],[.594,2.26],[.579,2.17],[.605,2.17],[.582,1.99],[.606,1.95],[.559,1.88],[.564,1.84],[.580,1.81],[.602,1.81],[.596,1.68],[.668,1.71],[.575,1.55],[.585,1.52],[.579,1.46],[.596,1.48],[.615,1.47],[.628,1.52],[.640,1.36],[.557,1.32],[.539,1.25],[.612,1.22],[.624,1.20],[.602,1.15],[.520,1.17],[.516,1.11],[.534,1.13],[.561,1.13],[.569,1.09],[.653,1.10],[.674,1.22],[.679,1.14],[.696,1.05],[.710,1.15],[.713,1.07],[.745,1.08],[.759,.90],[.771,.88],[.753,.75],[.778,.76],[.686,.63],[.688,.57],[.623,.60],[.579,.54],[.524,.49],[.613,.43],[.643,.37],[.564,.34],[.576,.37],[.572,.24],[.666,.09],[.698,.10],[.714,.12],[.488,.96],[.475,.91],[.474,.84],[.450,.76],[.465,.82],[.499,.82],[.517,.87],[.529,.95],[.564,.98],[.469,.67],[.439,.56],[.426,.43],[.493,.43],[.457,.37],[.449,.24],[.464,-.03],[.478,.24],[.494,.17],[.436,.14],[.426,.08],[.410,.11],[.389,.14],[.374,.13],[.353,.14],[.332,.11],[.337,.01],[.322,.01],[.395,.01],[.416,.01],[.442,.08],[.457,.09],
[.417,-.21],[.374,-.17],[.308,-.29],[.249,-.30],[.193,-.49],[.223,-.30],[.184,-.32],[.166,-.46],[.238,-.15],[.259,-.05],[.348,-.12],[.390,-.02],[.416,.01],[.322,-.02],[.296,-.08],[.212,-.25],[.186,-.26],[.166,-.20],[.270,-.18],[.337,-.05]];
const blueBandPoints=[[-.16,-.03],[-.145,-.06],[-.13,-.05],[-.115,-.03],[-.118,-.08],[-.1,-.02],[-.098,-.09],[-.085,-.01],[-.083,-.07],[-.07,-.03],[-.068,-.09],[-.055,-.02],[-.053,-.1],[-.051,-.16],[-.04,-.06],[-.037,-.13],[-.025,-.05],[-.023,-.11],[-.027,-.18],[-.01,-.07],[-.012,-.13],[-.008,-.2],[.005,-.04],[.003,-.1],[.007,-.16],[.004,-.22],[.02,-.05],[.018,-.11],[.022,-.17],[.019,-.24],[.035,-.03],[.033,-.09],[.037,-.15],[.034,-.21],[.036,-.28],[.05,-.02],[.052,-.08],[.049,-.14],[.051,-.2],[.048,-.27],[.065,-.01],[.063,-.07],[.067,-.13],[.064,-.19],[.066,-.26],[.08,-.04],[.082,-.1],[.079,-.16],[.081,-.22],[.083,-.29],[.095,-.03],[.093,-.09],[.097,-.15],[.094,-.21],[.096,-.27],[.11,-.02],[.112,-.08],[.109,-.14],[.111,-.2],[.108,-.25],[.125,-.01],[.123,-.07],[.127,-.13],[.124,-.19],[.14,.01],[.142,-.05],[.139,-.12],[.141,-.18],
[.002,.32],[.02,.36],[.05,.25],[.08,.28],[.11,.3],[.13,.33],[.128,.38],[.132,.42],[.15,.3],[.148,.36],[.152,.43],[.17,.3],[.168,.36],[.172,.42],[.19,.32],[.188,.38],[.192,.44],[.21,.33],[.208,.39],[.212,.45],[.23,.35],[.228,.41],[.232,.47],[.25,.38],[.248,.44],[.252,.5],[.27,.4],[.268,.46],[.272,.52],[.29,.44],[.288,.5],[.292,.56],[.31,.5],[.308,.56],[.312,.62],[.309,.68],[.325,.6],[.323,.66],[.327,.72],[.324,.78],[.34,.7],[.338,.76],[.342,.82],[.339,.88],[.341,.94],[.343,1.0],[.355,.74],[.353,.8],[.357,.86],[.354,.92],[.356,.98],[.358,1.04],[.37,.88],[.368,.96],[.372,1.02],[.369,1.08],[.371,1.14],[.385,1.0],[.383,1.06],[.387,1.12],[.384,1.18],[.4,1.1],[.402,1.16],
[.3,-.05],[.31,.04],[.32,.1],[.33,-.02],[.34,.05],[.35,.1],[.36,.04],[.37,.16],[.38,.06],[.39,0],[.4,.08],[.41,.16],[.42,.04],[.43,.12],[.44,.2],[.45,.1],[.46,.16],[.47,.08],[.48,.14],[.49,.2],[.5,.12],[.51,.18],[.53,.1],[.55,.12],[.44,.04],[.46,.05],[.37,.06],[.35,0],[.41,-.02],[.43,-.03],[.18,-.15],[.2,-.14],[.22,-.12],[.24,-.07],[.26,-.03],[.28,.02],[.3,.08],[.19,-.2],[.21,-.22],[.23,-.18]];
const cyanPoints=[[.675,3.44],[.679,3.33],[.662,3.17],[.467,3.22],
[-.428,.01],[-.339,.01],[-.309,.04],[-.281,0],[-.275,.02],[-.260,.02],[-.223,.02],[-.215,.14],[-.209,.05],[-.198,.06],[-.183,.03],[-.181,.05],[-.112,.22],[-.108,.17],[-.037,.20],[-.019,.17],[.142,-.55],[.156,-.76],[.138,-.31],[.132,-.26],[.160,-.40],
[-.163,.06],[-.163,.01],[-.147,.04],[-.147,.01],[-.134,.06],[-.121,.04],[-.105,.05],[-.090,.07],[-.074,.07],[-.058,.07],[-.043,.11],[-.030,.06],[-.017,.11],[-.001,.06],[.014,.03],[.030,.03],[.043,.03],[.051,.09],[.067,.12],[.082,.16],[.098,.19],[.113,.22],[.129,.24],[.145,.17],[.160,.21],[.176,.21],[.025,.11],[.004,.14],[-.012,.14],[.046,.14],[.067,.17],[.098,.14],[.129,.16],[.155,.14],[.176,.12],[.145,.08],[.160,.05],[.176,.01],[.145,-.02],[.160,-.04],[.176,-.08],[.142,-.08],[.155,-.12],[.171,-.12],
[-.006,.27],[.004,.30],[.015,.32],[.028,.30],[.033,.27],[-.001,.21],[.020,.21],[.009,.24],
[.166,.14],[.181,.11],[.197,.14],[.212,.16],[.228,.17],[.244,.21],[.259,.24],[.275,.27],[.291,.30],[.306,.37],[.322,.43],[.337,.50],[.353,.58],[.369,.63],[.384,.66],[.400,.69],[.166,.05],[.181,.01],[.197,.03],[.212,.06],[.228,.08],[.244,.11],[.259,.14],[.275,.19],[.291,.24],[.306,.29],[.322,.35],[.337,.41],[.353,.50],[.374,.53],[.395,.58],[.410,.56],[.176,-.05],[.197,-.07],[.218,-.04],[.238,.01],[.259,.06],[.280,.11],
[.304,.51],[.319,.55],[.363,.88],[.374,.82],[.382,.95],[.389,.87],[.395,.76],[.384,.72],[.366,.71],[.353,.66],[.395,1.05],[.405,1.11],[.416,1.05],[.421,.98],[.410,.93],[.403,.88],[.426,1.11],[.421,1.21],[.436,.96],[.429,.95],[.436,.88],[.434,.72],[.434,.66],[.424,.63],[.416,1.27],[.431,1.27],[.444,1.30],[.457,1.27],[.473,1.29],[.483,1.26],[.452,1.19],[.468,1.19],[.449,1.11],[.457,1.03],
[.418,1.43],[.418,1.34],[.463,1.42],[.460,1.35],[.473,1.37],[.483,1.35],[.496,1.37],[.486,1.47],[.491,1.58],[.487,1.50],[.436,1.57],[.447,1.48],[.457,1.56],[.429,1.72],[.486,1.68],[.503,1.70],[.513,1.59],[.509,1.51],[.509,1.43],[.520,1.45],[.527,1.43],[.515,1.53],[.530,1.61],[.536,1.52],[.548,1.56],[.550,1.49],[.556,1.63],[.538,1.72],[.548,1.71],[.554,1.82],[.548,1.84],[.555,1.99],[.552,2.11],[.543,2.18],[.554,2.18],[.534,2.38],[.549,2.38],[.506,2.37],[.513,2.16],[.471,2.08],[.478,1.85],[.442,1.94],[.418,1.91],[.370,1.84],[.431,2.52],[.399,2.37],[.466,2.30],[.632,2.94],[.641,2.85],[.661,3.17],[.618,2.49],[.642,2.53],[.647,2.52],[.658,2.48],[.655,2.42],[.540,1.36],[.578,1.30],[.616,1.34],[.522,1.25],[.560,1.11],[.593,1.09],[.600,1.09],[.637,1.18],[.658,1.25],[.668,1.28],[.692,1.22],[.707,1.25],[.694,1.16],[.705,1.16],[.764,.77],[.789,.76],[.785,.71],[.732,.64],[.503,.97],[.551,.99],[.541,.95],[.538,.90],[.465,.82],[.511,.78],[.499,.64],[.489,.58],[.468,.52],[.469,.44],
[.507,.09],[.525,.13],[.535,.16],[.551,.12],[.567,.13],[.582,.14],[.598,.13],[.619,.14],[.606,.12],[.475,.18],[.462,.11],[.473,.09],[.426,.30],[.434,.27],[.405,.24],[.397,.17],[.376,.11],[.361,.11],[.348,.21],[.337,.08],[.395,.08],[.405,-.02],[.426,0],[.358,-.02],
[.212,-.05],[.220,-.21],[.233,-.23],[.254,-.20],[.272,-.18],[.283,-.08],[.293,-.04],[.311,-.08],[.320,-.19],[.332,-.10],[.361,-.08],[.379,-.07],[.298,-.13]];
const cyanBandPoints=[[-.155,.03],[-.157,.07],[-.14,.02],[-.142,.07],[-.125,.02],[-.127,.08],[-.11,.03],[-.112,.09],[-.095,.03],[-.097,.09],[-.08,.04],[-.082,.10],[-.065,.05],[-.067,.11],[-.05,.05],[-.052,.12],[-.035,.04],[-.037,.11],[-.02,.03],[-.022,.12],[-.018,.18],[-.005,.04],[-.007,.10],[-.003,.16],[-.006,.24],[.01,.01],[.012,.07],[.009,.13],[.011,.19],[.008,.27],[.025,.01],[.023,.06],[.027,.12],[.024,.18],[.026,.26],[.04,.02],[.042,.07],[.039,.13],[.041,.19],[.055,.02],[.053,.08],[.057,.14],[.07,.03],[.072,.09],[.069,.15],[.071,.2],[.085,.04],[.083,.1],[.087,.16],[.084,.22],[.1,.05],[.102,.11],[.099,.17],[.101,.23],[.115,.06],[.113,.12],[.117,.18],[.114,.24],[.13,.06],[.132,.12],[.129,.18],[.131,.24],[.145,-.04],[.143,.02],[.147,.08],[.144,.14],[.146,.2],[.148,.25],[.16,-.08],[.162,-.02],[.159,.04],[.161,.1],[.158,.16],[.163,.22],[.16,.26],[.175,-.1],[.173,-.04],[.177,.02],[.174,.08],[.176,.14],[.178,.2],[.172,.26],[.19,-.08],[.192,-.02],[.189,.04],[.191,.1],[.188,.16],[.193,.22],[.19,.27],[.205,-.06],[.203,0],[.207,.06],[.204,.12],[.206,.18],[.208,.24],[.22,-.04],[.222,.02],[.219,.08],[.221,.14],[.218,.2],[.223,.26],[.235,0],[.233,.06],[.237,.12],[.234,.18],[.236,.24],[.238,.29],[.25,.04],[.252,.1],[.249,.16],[.251,.22],[.248,.28],[.265,.08],[.263,.14],[.267,.2],[.264,.26],[.266,.32],[.28,.12],[.282,.18],[.279,.24],[.281,.3],[.278,.35],[.295,.18],[.293,.24],[.297,.3],[.294,.36],[.296,.42],[.31,.24],[.312,.3],[.309,.36],[.311,.42],[.308,.48],[.325,.3],[.323,.36],[.327,.42],[.324,.48],[.326,.54],[.34,.36],[.342,.42],[.339,.48],[.341,.54],[.338,.6],[.355,.42],[.353,.48],[.357,.54],[.354,.6],[.356,.66],[.37,.5],[.372,.56],[.369,.62],[.371,.68],[.385,.56],[.383,.62],[.387,.68],[.384,.74],[.4,.62],[.402,.68],[.399,.74]];

/* ---------- Axis functions ---------- */
function xMap(km){return 215.7+(km+2300)*1.875;}
function yMap(km){return 660-(km-1000)*1.8777;}
function xScatter(v){return 1514+640*v;}
function yScatter(v){return 631.3-103.3*v;}
function yCbar(v){return 742-680*v;}

const NS='http://www.w3.org/2000/svg';
const COLORS={gray:'#c0c0c0',purple:'#9467bd',blue:'#1f77b4',cyan:'#17becf'};
function make(parent,tag,attrs,txt){
  const e=document.createElementNS(NS,tag);
  for(const k in attrs){e.setAttribute(k,attrs[k]);}
  if(txt!==undefined){e.textContent=txt;}
  parent.appendChild(e);
  return e;
}
function regionPath(pts){
  return pts.map(function(p,i){return (i?'L':'M')+xMap(p[0]).toFixed(1)+' '+yMap(p[1]).toFixed(1);}).join(' ')+' Z';
}

/* ---------- Draw map regions ---------- */
const mapLayer=document.getElementById('mapLayer');
const mapOrder=[
 [grayOutline,'gray','gray-region'],[grayIsland,'gray','gray-island'],
 [purpleWest,'purple','purple-west'],[purpleNorth,'purple','purple-north'],[purpleEast,'purple','purple-east'],[purpleTipStrip,'purple','purple-tip-strip'],[purpleSouth,'purple','purple-south'],[purpleSlitEdge,'purple','purple-slit-edge'],[purpleRingOne,'purple','purple-ring-one'],[purpleRingTwo,'purple','purple-ring-two'],[purpleColumn,'purple','purple-column'],
 [grayBlobNorth,'gray','gray-blob-north'],[grayBlobMid,'gray','gray-blob-mid'],[grayBlobEastOne,'gray','gray-blob-east-one'],[grayBlobEastTwo,'gray','gray-blob-east-two'],[grayBlobEastThree,'gray','gray-blob-east-three'],[grayBlobEastFour,'gray','gray-blob-east-four'],
 [blueMain,'blue','blue-main'],[blueEast,'blue','blue-east'],[blueSouthWest,'blue','blue-south-west'],[blueEastBlob,'blue','blue-east-blob'],[blueEastPatch,'blue','blue-east-patch'],[blueSlitPatch,'blue','blue-slit-patch'],[blueSouthEdge,'blue','blue-south-edge'],[blueNorthWest,'blue','blue-north-west'],[blueFinger,'blue','blue-finger'],[blueCoastStrip,'blue','blue-coast-strip'],[blueRingOne,'blue','blue-ring-one'],[blueRingTwo,'blue','blue-ring-two'],[blueWestStrip,'blue','blue-west-strip'],[blueWestV,'blue','blue-west-v'],
 [cyanMain,'cyan','cyan-main'],[cyanFinger,'cyan','cyan-finger'],[cyanCoast,'cyan','cyan-coast'],[cyanWestStrip,'cyan','cyan-west-strip'],[cyanWestV,'cyan','cyan-west-v'],[cyanRingOne,'cyan','cyan-ring-one'],[cyanRingTwo,'cyan','cyan-ring-two'],[cyanRingTwoLower,'cyan','cyan-ring-two-lower'],[cyanSouthWest,'cyan','cyan-south-west']
];
mapOrder.forEach(function(item){
  const el=make(mapLayer,'path',{d:regionPath(item[0]),fill:COLORS[item[1]],stroke:COLORS[item[1]],'stroke-width':'8','stroke-linecap':'round','stroke-linejoin':'round','stroke-dasharray':'0 6.5'});
  
  
});
[[purpleMapDots,'purple'],[blueMapDots,'blue'],[cyanMapDots,'cyan']].forEach(function(set){
  set[0].forEach(function(p){
    const el=make(mapLayer,'circle',{cx:xMap(p[0]).toFixed(1),cy:yMap(p[1]).toFixed(1),r:'5',fill:COLORS[set[1]]});
    
    
  });
});
const slit=make(mapLayer,'path',{d:regionPath(whiteSlit),fill:'#fff'});



/* ---------- Draw scatter ---------- */
const scatterLayer=document.getElementById('scatterLayer');
[[grayPoints,'gray',4.2],[grayDensePoints,'gray',4.2],[purplePoints,'purple',4.5],[purpleClusterPoints,'purple',4.5],[bluePoints,'blue',4.5],[blueBandPoints,'blue',4.5],[cyanPoints,'cyan',4.7],[cyanBandPoints,'cyan',4.7]].forEach(function(set){
  set[0].forEach(function(p){
    const el=make(scatterLayer,'circle',{cx:xScatter(p[0]).toFixed(1),cy:yScatter(p[1]).toFixed(1),r:set[2],fill:COLORS[set[1]]});
    
    
  });
});

/* ---------- Ticks ---------- */
const axisLayer=document.getElementById('axisLayer');
function tickLine(x1,y1,x2,y2,name){
  const el=make(axisLayer,'line',{x1:x1,y1:y1,x2:x2,y2:y2,stroke:'#000','stroke-width':'2.4'});
  
  
}
function tickText(x,y,s,anchor,name){
  const el=make(axisLayer,'text',{x:x,y:y,'font-size':'32','text-anchor':anchor},s);
  
  
}
mapXTicks.forEach(function(v){
  const x=xMap(v);
  tickLine(x,742.7,x,752.5,'map-x-tick');
  tickText(x-12.5,786,String(v).replace('-','\u2212'),'middle','map-x-tick-label');
});
mapYTicks.forEach(function(v){
  const y=yMap(v);
  tickLine(140.5,y,150.4,y,'map-y-tick');
  tickText(130,y+11.5,String(v),'end','map-y-tick-label');
});
scatterXTicks.forEach(function(v){
  const x=xScatter(v);
  tickLine(x,742.7,x,752.5,'scatter-x-tick');
  const off=v<0?-12:(v>0.7?-4:0);
  tickText(x+off,786,v.toFixed(1).replace('-','\u2212'),'middle','scatter-x-tick-label');
});
scatterYTicks.forEach(function(v){
  const y=yScatter(v);
  tickLine(1196,y,1206.5,y,'scatter-y-tick');
  tickText(1190,y+11.5,(v/1000).toFixed(3).replace('-','\u2212'),'end','scatter-y-tick-label');
});

/* ---------- Colorbar ---------- */
const cbarLayer=document.getElementById('cbarLayer');
const cbarColors=[COLORS.cyan,COLORS.blue,COLORS.purple];
cbarColors.forEach(function(c,i){
  const el=make(cbarLayer,'rect',{x:850,y:yCbar(cbarBounds[i+1]),width:34.5,height:yCbar(cbarBounds[i])-yCbar(cbarBounds[i+1]),fill:c});
  
  
});
const ext=make(cbarLayer,'polygon',{points:'850,62 884.5,62 867.2,27.5',fill:COLORS.gray});


const outline=make(cbarLayer,'polygon',{points:'850,742 850,62 867.2,27.5 884.5,62 884.5,742',fill:'none',stroke:'#000','stroke-width':'2.4','stroke-linejoin':'miter'});


cbarBounds.forEach(function(v,i){
  const y=yCbar(v);
  const t=make(cbarLayer,'line',{x1:884.5,y1:y,x2:894,y2:y,stroke:'#000','stroke-width':'2.4'});
  
  
  const l=make(cbarLayer,'text',{x:903,y:y+11.5,'font-size':'32'},cbarLabels[i]);
  
  
});
</script>
</body>
</html>
